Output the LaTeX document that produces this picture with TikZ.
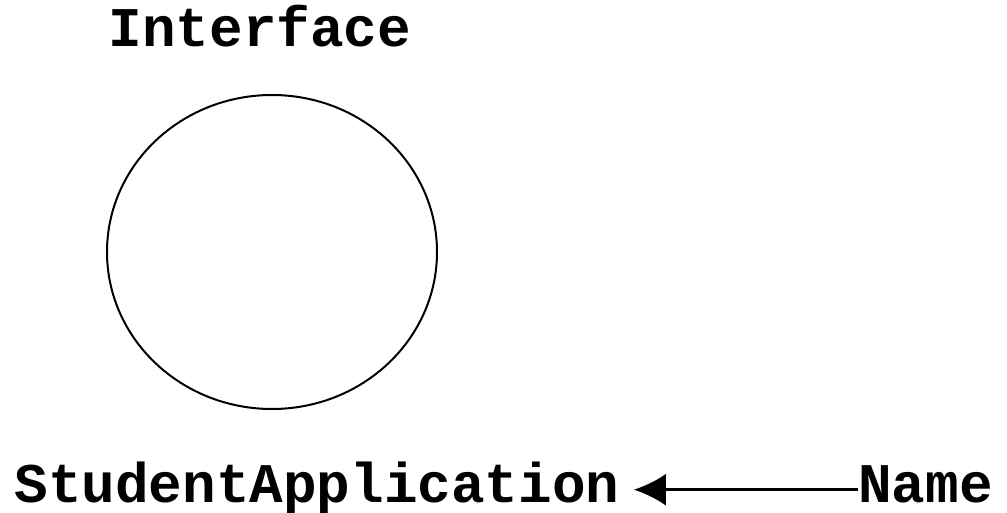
\documentclass[tikz,border=0pt]{standalone}
\usepackage{fontspec}
\setmonofont{Liberation Mono}
\usetikzlibrary{positioning, arrows.meta, shapes.geometric}

\begin{document}
\begin{tikzpicture}[
    x=0.5pt, y=-0.5pt,
    font=\ttfamily\bfseries\fontsize{28}{30}\selectfont,
    label/.style={
        inner sep=0pt,
        anchor=base
    },
    iface/.style={
        draw,
        ellipse,
        line width=1pt,
        inner sep=0pt
    },
    line/.style={
        draw,
        -{Latex[length=16pt, width=16pt]},
        line width=1.5pt,
        shorten >=7pt
    }
]

% --- Page frame ---
\useasboundingbox (0,0) rectangle (1007,513);

% --- Interface symbol ---
\node[iface, minimum width=165pt, minimum height=157pt] (circle) at (272,252) {};
\node[label] (iface_label) at (260,47) {Interface};

% --- Class and its name ---
\node[label] (app) at (317,502) {StudentApplication};
\node[label, right=119pt of app.base east, anchor=base west] (name) {Name};

% --- Connections ---
\draw[line] ([yshift=4pt]name.mid west) -- ([yshift=4pt]app.mid east);

\end{tikzpicture}
\end{document}
